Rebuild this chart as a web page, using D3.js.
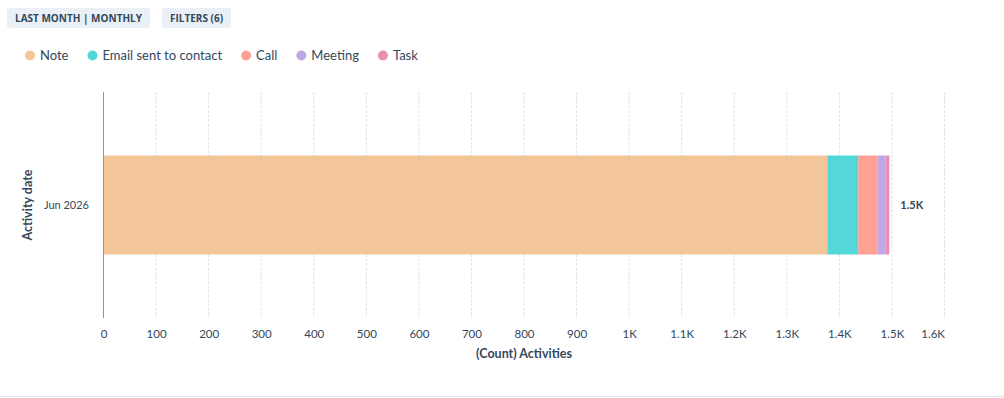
<!DOCTYPE html>
<html><head><meta charset="utf-8">
<script src="https://cdn.jsdelivr.net/npm/d3@7"></script>
<style>
body{margin:0;background:#fff;font-family:Lato,"Open Sans",sans-serif;}
</style></head><body>
<svg id="c" width="1004" height="398"></svg>
<script>
const categories = ["Jun 2026"];
const seriesNames = ["Note","Email sent to contact","Call","Meeting","Task"];
const seriesColors = ["#f3c699","#53d7d8","#fea194","#bea8e6","#e88fb2"];
const seriesValues = [[1377],[59],[37],[15],[7]];
const totalLabels = ["1.5K"];
const xTicks = [0,100,200,300,400,500,600,700,800,900,1000,1100,1200,1300,1400,1500,1600];
const buttons = ["LAST MONTH | MONTHLY","FILTERS (6)"];

const svg = d3.select("#c");
const textColor = "#33475b";
const m = {left:103.5, right:944.5, top:92, bottom:318};

const x = d3.scaleLinear().domain([0,1600]).range([m.left,m.right]);
const y = d3.scaleBand().domain(categories).range([m.top,m.bottom]).paddingInner(0.2).paddingOuter(0.513);

// buttons
const btnX = [7,162];
buttons.forEach((b,i)=>{
  const g = svg.append("g");
  const t = g.append("text").attr("x",btnX[i]+8).attr("y",22).text(b)
    .attr("font-size",10).attr("font-weight",700).attr("fill",textColor)
    .attr("font-family","'Open Sans',sans-serif");
  const w = t.node().getComputedTextLength();
  g.insert("rect","text").attr("x",btnX[i]).attr("y",8).attr("width",w+16).attr("height",20).attr("rx",3).attr("fill","#eaf0f6");
});

// legend
let lx = 30;
seriesNames.forEach((n,i)=>{
  svg.append("circle").attr("cx",lx).attr("cy",55.5).attr("r",5).attr("fill",seriesColors[i]);
  const t = svg.append("text").attr("x",lx+10).attr("y",60).text(n).attr("font-size",13).attr("fill",textColor);
  lx += 10 + t.node().getComputedTextLength() + 24;
});

// grid
svg.append("g").selectAll("line").data(xTicks.slice(1)).join("line")
  .attr("x1",d=>x(d)).attr("x2",d=>x(d)).attr("y1",m.top).attr("y2",m.bottom)
  .attr("stroke","#dbe3ec").attr("stroke-dasharray","3,1.5");

// stacked bars
const stackData = categories.map((c,ci)=>{
  const o={cat:c}; seriesNames.forEach((s,si)=>o[s]=seriesValues[si][ci]); return o;});
const stacked = d3.stack().keys(seriesNames)(stackData);
stacked.forEach((layer,li)=>{
  svg.append("g").selectAll("rect").data(layer).join("rect")
    .attr("x",d=>x(d[0])).attr("width",d=>x(d[1])-x(d[0]))
    .attr("y",d=>y(d.data.cat)).attr("height",y.bandwidth())
    .attr("fill",seriesColors[li]);
});

// total labels
categories.forEach((c,ci)=>{
  const tot = d3.sum(seriesValues,s=>s[ci]);
  svg.append("text").attr("x",x(tot)+11).attr("y",y(c)+y.bandwidth()/2+4).text(totalLabels[ci])
    .attr("font-size",11).attr("font-weight",700).attr("fill",textColor);
});

// y axis line
svg.append("line").attr("x1",m.left).attr("x2",m.left).attr("y1",m.top).attr("y2",m.bottom).attr("stroke","#7c98b6");

// category labels
categories.forEach(c=>{
  svg.append("text").attr("x",89).attr("y",y(c)+y.bandwidth()/2+4).attr("text-anchor","end")
    .text(c).attr("font-size",11).attr("fill",textColor);
});

// x axis
const fmt = d=> d>=1000 ? (d/1000)+"K" : String(d);
const xa = svg.append("g").attr("transform",`translate(0,${m.bottom})`)
  .call(d3.axisBottom(x).tickValues(xTicks).tickFormat(fmt).tickSize(0).tickPadding(12));
xa.select(".domain").remove();
xa.selectAll("text").attr("font-size",11.5).attr("fill",textColor).attr("font-family","Lato,sans-serif");
xa.selectAll(".tick").filter(d=>d===1600).select("text").attr("text-anchor","end");

// axis titles
svg.append("text").attr("x",(m.left+m.right)/2).attr("y",358).attr("text-anchor","middle")
  .text("(Count) Activities").attr("font-size",12.5).attr("font-weight",700).attr("fill",textColor);
svg.append("text").attr("transform",`translate(32,${(m.top+m.bottom)/2}) rotate(-90)`).attr("text-anchor","middle")
  .text("Activity date").attr("font-size",12.5).attr("font-weight",700).attr("fill",textColor);

// bottom line
svg.append("line").attr("x1",0).attr("x2",1004).attr("y1",396.5).attr("y2",396.5).attr("stroke","#dfe3eb");
</script></body></html>
